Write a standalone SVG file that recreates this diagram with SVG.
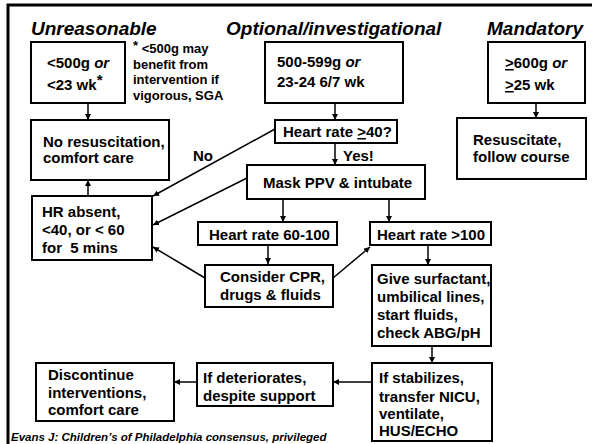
<svg xmlns="http://www.w3.org/2000/svg" width="592" height="444" viewBox="0 0 592 444">
<style>
.box{fill:#fff;stroke:#000;stroke-width:2}
.t{font-family:"Liberation Sans",Arial,sans-serif;font-weight:bold;font-size:15px;fill:#000}
.n{font-size:13px}
.h{font-family:"Liberation Sans",Arial,sans-serif;font-weight:bold;font-style:italic;font-size:19px;fill:#000}
.i{font-style:italic}
.u{text-decoration:underline}
.c{stroke:#000;stroke-width:1.5;fill:none;marker-end:url(#ah)}
.f{font-family:"Liberation Sans",Arial,sans-serif;font-weight:bold;font-style:italic;font-size:11.5px;fill:#000}
</style>
<defs>
<marker id="ah" markerWidth="7" markerHeight="6" refX="6" refY="3" orient="auto" markerUnits="userSpaceOnUse">
<path d="M0,0 L6,3 L0,6 z" fill="#000"/>
</marker>
</defs>
<rect width="592" height="444" fill="#fff"/>
<g id="frame"><path d="M8,444 L8,5 L592,5" fill="none" stroke="#000" stroke-width="3"/></g>
<g id="titles">
<text class="h" x="31" y="35">Unreasonable</text>
<text class="h" x="226" y="35">Optional/investigational</text>
<text class="h" x="487" y="35">Mandatory</text>
</g>
<g id="connectors">
<line class="c" x1="88" y1="103" x2="88" y2="120"/>
<line class="c" x1="88" y1="196" x2="88" y2="180"/>
<line class="c" x1="335" y1="103" x2="335" y2="120"/>
<line class="c" x1="335" y1="143" x2="335" y2="165"/>
<line class="c" x1="275" y1="129" x2="153" y2="196"/>
<line class="c" x1="247" y1="178" x2="153" y2="225"/>
<line class="c" x1="283" y1="199" x2="283" y2="222"/>
<line class="c" x1="389" y1="199" x2="389" y2="222"/>
<line class="c" x1="268" y1="245" x2="268" y2="264"/>
<line class="c" x1="205" y1="278" x2="153" y2="247"/>
<line class="c" x1="333" y1="278" x2="370" y2="247"/>
<line class="c" x1="428" y1="245" x2="428" y2="265"/>
<line class="c" x1="432" y1="346" x2="432" y2="363"/>
<line class="c" x1="372" y1="382" x2="333" y2="382"/>
<line class="c" x1="197" y1="382" x2="174" y2="382"/>
<line class="c" x1="536" y1="102" x2="536" y2="118"/>
<text class="t" x="193" y="161">No</text>
<text class="t" x="343" y="161">Yes!</text>
</g>
<g id="n500">
<rect class="box" x="31" y="42" width="94" height="61"/>
<text class="t" x="47" y="68">&lt;500g <tspan class="i">or</tspan></text>
<text class="t" x="47" y="90">&lt;23 wk<tspan dy="-5">*</tspan></text>
</g>
<g id="note">
<text class="t n" x="133" y="53"><tspan dy="-3">*</tspan><tspan dy="3"> &lt;500g may</tspan></text>
<text class="t n" x="133" y="69">benefit from</text>
<text class="t n" x="133" y="84">intervention if</text>
<text class="t n" x="133" y="100">vigorous, SGA</text>
</g>
<g id="noresus">
<rect class="box" x="31" y="120" width="138" height="60"/>
<text class="t" x="43" y="147">No resuscitation,</text>
<text class="t" x="43" y="163">comfort care</text>
</g>
<g id="n599">
<rect class="box" x="265" y="42" width="138" height="61"/>
<text class="t" x="277" y="67">500-599g <tspan class="i">or</tspan></text>
<text class="t" x="277" y="87">23-24 6/7 wk</text>
</g>
<g id="hr40">
<rect class="box" x="275" y="120" width="122" height="23"/>
<text class="t" x="283" y="137">Heart rate <tspan class="u">&gt;</tspan>40?</text>
</g>
<g id="n600">
<rect class="box" x="488" y="42" width="97" height="61"/>
<text class="t" x="505" y="68"><tspan class="u">&gt;</tspan>600g <tspan class="i">or</tspan></text>
<text class="t" x="505" y="90"><tspan class="u">&gt;</tspan>25 wk</text>
</g>
<g id="resus">
<rect class="box" x="457" y="118" width="129" height="61"/>
<text class="t" x="473" y="145">Resuscitate,</text>
<text class="t" x="473" y="162">follow course</text>
</g>
<g id="mask">
<rect class="box" x="247" y="165" width="178" height="34"/>
<text class="t" x="263" y="188">Mask PPV &amp; intubate</text>
</g>
<g id="hrabsent">
<rect class="box" x="32" y="196" width="120" height="64"/>
<text class="t" x="42" y="217">HR absent,</text>
<text class="t" x="42" y="235">&lt;40, or &lt; 60</text>
<text class="t" x="42" y="253" xml:space="preserve">for  5 mins</text>
</g>
<g id="hr60">
<rect class="box" x="198" y="222" width="139" height="23"/>
<text class="t" x="209" y="240">Heart rate 60-100</text>
</g>
<g id="hr100">
<rect class="box" x="370" y="222" width="121" height="23"/>
<text class="t" x="377" y="240">Heart rate &gt;100</text>
</g>
<g id="cpr">
<rect class="box" x="205" y="265" width="128" height="42"/>
<text class="t" x="220" y="282">Consider CPR,</text>
<text class="t" x="220" y="300">drugs &amp; fluids</text>
</g>
<g id="surf">
<rect class="box" x="372" y="265" width="119" height="81"/>
<text class="t" x="377" y="284">Give surfactant,</text>
<text class="t" x="377" y="302">umbilical lines,</text>
<text class="t" x="377" y="320">start fluids,</text>
<text class="t" x="377" y="338">check ABG/pH</text>
</g>
<g id="stab">
<rect class="box" x="372" y="363" width="120" height="78"/>
<text class="t" x="379" y="383">If stabilizes,</text>
<text class="t" x="379" y="402">transfer NICU,</text>
<text class="t" x="379" y="419">ventilate,</text>
<text class="t" x="379" y="436">HUS/ECHO</text>
</g>
<g id="deter">
<rect class="box" x="197" y="363" width="136" height="43"/>
<text class="t" x="203" y="383">If deteriorates,</text>
<text class="t" x="203" y="401">despite support</text>
</g>
<g id="disc">
<rect class="box" x="36" y="363" width="138" height="58"/>
<text class="t" x="48" y="380">Discontinue</text>
<text class="t" x="48" y="398">interventions,</text>
<text class="t" x="48" y="415">comfort care</text>
</g>
<text class="f" x="11" y="441">Evans J: Children’s of Philadelphia consensus, privileged</text>
</svg>
